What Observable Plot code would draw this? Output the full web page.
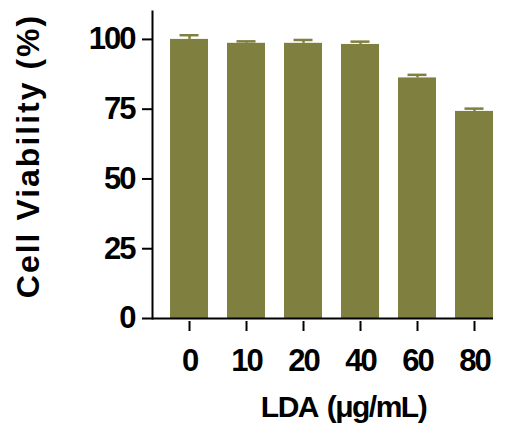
<!DOCTYPE html>
<html>
<head>
<meta charset="utf-8">
<script src="https://cdn.jsdelivr.net/npm/d3@7"></script>
<script src="https://cdn.jsdelivr.net/npm/@observablehq/plot@0.6"></script>
<style>
  html, body { margin: 0; padding: 0; background: #fff; }
  #chart svg text { font-family: 'Liberation Sans', Arial, sans-serif !important; font-weight: bold !important; font-size: 31px !important; letter-spacing: -2px; fill: #000; }
  #chart svg g.ytitle text { font-size: 32px !important; letter-spacing: 2px; }
  #chart svg g.xtitle text { font-size: 30px !important; letter-spacing: -1.5px; word-spacing: 3px; }
</style>
</head>
<body>
<div id="chart"></div>
<script>
const doses = ["0", "10", "20", "40", "60", "80"];
const viability = [100, 98.6, 98.6, 98.2, 86.2, 74.2];
const sd = [1.5, 0.7, 1.2, 1.0, 1.1, 1.0];
const yTicks = [0, 25, 50, 75, 100];
const yTitle = "Cell Viability (%)";
const xTitle = "LDA (\u03BCg/mL)";
const barColor = "#7f7f40";

const data = doses.map((d, i) => ({dose: d, value: viability[i], err: sd[i]}));

const plot = Plot.plot({
  width: 507,
  height: 432,
  marginLeft: 152,
  marginRight: 14,
  marginTop: 11,
  marginBottom: 114,
  style: {fontFamily: "'Liberation Sans', Arial, sans-serif", fontWeight: "bold", fontSize: "31px", color: "black", background: "white"},
  x: {domain: doses, paddingInner: 1/3, paddingOuter: 0.158, align: 1, round: false, label: null},
  y: {domain: [0, 110], label: null},
  marks: [
    Plot.barY(data, {x: "dose", y: "value", fill: barColor}),
    Plot.ruleX(data, {x: "dose", y1: "value", y2: d => d.value + d.err, stroke: barColor, strokeWidth: 2.5}),
    Plot.tickY(data, {x: "dose", y: d => d.value + d.err, stroke: barColor, strokeWidth: 2.5, inset: 9.5}),
    Plot.axisY({ticks: yTicks, tickSize: 10, tickPadding: 8, strokeWidth: 2, label: null}),
    Plot.axisX({tickSize: 10, tickPadding: 17, dy: 3, strokeWidth: 2, label: null}),
    Plot.frame({anchor: "left", strokeWidth: 2}),
    Plot.ruleY([0], {strokeWidth: 2}),
    Plot.text([yTitle], {text: d => d, frameAnchor: "left", textAnchor: "middle", lineAnchor: "middle", rotate: -90, dx: -124, dy: -9, className: "ytitle"}),
    Plot.text([xTitle], {text: d => d, frameAnchor: "bottom", textAnchor: "middle", lineAnchor: "middle", dx: 20.5, dy: 89, className: "xtitle"})
  ]
});
document.getElementById("chart").appendChild(plot);
</script>
</body>
</html>
